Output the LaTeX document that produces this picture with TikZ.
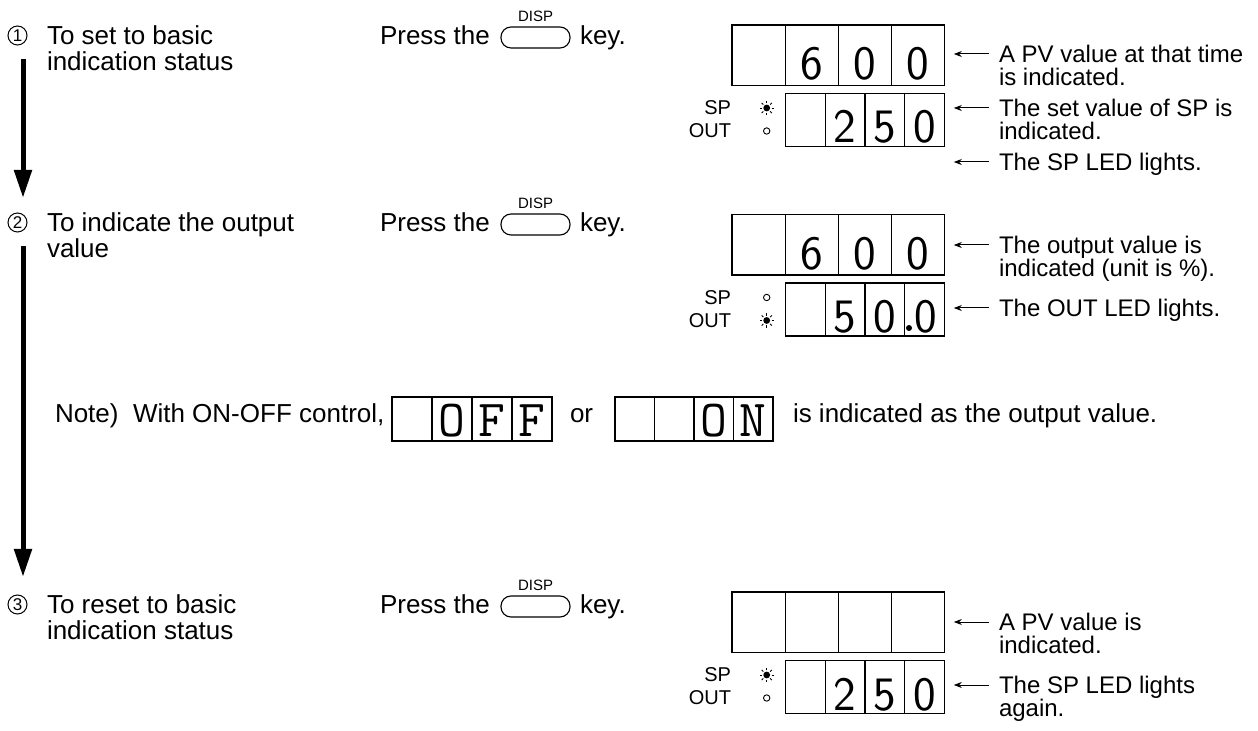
\documentclass[tikz,border=0pt]{standalone}
\usepackage{fontspec}
\setmainfont{Liberation Sans}
\usetikzlibrary{arrows.meta,positioning}

\begin{document}
\begin{tikzpicture}[
  x=0.5pt, y=-0.5pt,
  every node/.style={inner sep=0pt, outer sep=0pt},
  main/.style={font=\fontsize{13}{13}\selectfont},
  desc/.style={font=\fontsize{12}{11.5}\selectfont, align=left, anchor=north west},
  num/.style={circle, draw, line width=0.5pt, minimum size=9.5pt, font=\fontsize{8.5}{8.5}\selectfont},
  keybox/.style={draw, rounded corners=5pt, line width=0.55pt, minimum width=34.5pt, minimum height=10.5pt},
  keylbl/.style={font=\fontsize{7.5}{7.5}\selectfont},
  cell/.style={draw, line width=0.6pt},
  seg/.style={font=\sffamily\fontsize{24}{24}\selectfont, anchor=base},
  mono/.style={font=\ttfamily\fontsize{26}{26}\selectfont, anchor=base},
  led/.style={font=\fontsize{10}{10}\selectfont, anchor=east},
  flow/.style={line width=2.5pt, -{Triangle[length=14pt,width=8.5pt]}},
  ptr/.style={line width=0.5pt, -{Stealth[length=4pt,width=3pt]}},
  ledon/.pic={\fill (0,0) circle (1.7pt);
    \foreach \a in {0,45,...,315} \draw[line width=0.4pt] (\a:2.4pt) -- (\a:3.6pt);},
  ledoff/.pic={\draw[line width=0.45pt] (0,0) circle (1.6pt);}
]
\useasboundingbox (0,0) rectangle (1258,731);

% steps on the left
\node[num] (n1) at (17.5,35.5) {1};
\node[num] (n2) at (17.5,222.5) {2};
\node[num] (n3) at (17.5,604.5) {3};
\node[main, align=left, anchor=north west] (s1) at (47,26) {To set to basic\\indication status};
\node[main, align=left, anchor=north west] (s2) at (47,213) {To indicate the output\\value};
\node[main, align=left, anchor=north west] (s3) at (47,595) {To reset to basic\\indication status};

\coordinate (f1a) at (23,59);
\coordinate (f1b) at (23,198);
\coordinate (f2a) at (23,246);
\coordinate (f2b) at (23,577);
\draw[flow] (f1a) -- (f1b);
\draw[flow] (f2a) -- (f2b);

% key presses
\foreach \b/\n in {45/1,232/2,614/3}{
  \node[main, anchor=base west] (press\n) at (380,\b) {Press the};
  \node[keybox] (key\n) at (535.5,\b-7.5) {};
  \node[keylbl] (disp\n) at (535.5,\b-29) {DISP};
  \node[main, anchor=base west] (keyt\n) at (580,\b) {key.};
}

% displays
\foreach \y/\n in {25/1,214.5/2,592/3}{
  \foreach \i in {0,...,3}
    \draw[cell] (732+53.1*\i,\y) rectangle ++(53.1,60.5);
  \foreach \i in {0,...,3}
    \draw[cell] (785.5+39.75*\i,\y+68.5) rectangle ++(39.75,53);
  \node[led] (sp\n) at (731,\y+83) {SP};
  \node[led] (out\n) at (731,\y+106) {OUT};
}
\pic (ledsp1) at (766.7,108) {ledon};
\pic (ledout1) at (766.7,131) {ledoff};
\pic (ledsp2) at (766.7,297.5) {ledoff};
\pic (ledout2) at (766.7,320.5) {ledon};
\pic (ledsp3) at (766.7,675) {ledon};
\pic (ledout3) at (766.7,698) {ledoff};

\node[seg] (u1b) at (811.65,80) {6};
\node[seg] (u1c) at (864.75,80) {0};
\node[seg] (u1d) at (917.85,80) {0};
\node[seg] (l1b) at (845.1,143) {2};
\node[seg] (l1c) at (884.9,143) {5};
\node[seg] (l1d) at (924.6,143) {0};
\node[seg] (u2b) at (811.65,269.5) {6};
\node[seg] (u2c) at (864.75,269.5) {0};
\node[seg] (u2d) at (917.85,269.5) {0};
\node[seg] (l2b) at (845.1,332.5) {5};
\node[seg] (l2c) at (884.9,332.5) {0};
\node[seg] (l2d) at (926,332.5) {0};
\fill (909,328) circle (1.5pt);
\node[seg] (l3b) at (845.1,710) {2};
\node[seg] (l3c) at (884.9,710) {5};
\node[seg] (l3d) at (924.6,710) {0};

% texts on the right
\node[desc] (d1a) at (999,45) {A PV value at that time\\is indicated.};
\node[desc] (d1b) at (999,99) {The set value of SP is\\indicated.};
\node[desc] (d1c) at (999,153) {The SP LED lights.};
\node[desc] (d2a) at (999,236) {The output value is\\indicated (unit is \%).};
\node[desc] (d2b) at (999,299) {The OUT LED lights.};
\node[desc] (d3a) at (999,613) {A PV value is\\indicated.};
\node[desc] (d3b) at (999,676) {The SP LED lights\\again.};

\foreach \c/\m in {54/1a,108/1b,162/1c,245/2a,308/2b,622/3a,685/3b}{
  \coordinate (pa\m) at (988.7,\c);
  \coordinate (pb\m) at (953.8,\c);
  \draw[ptr] (pa\m) -- (pb\m);
}

% note line
\node[main, anchor=base west] (note) at (55,423) {Note)\ \ With ON-OFF control,};
\foreach \i in {0,...,3}
  \draw[cell] (392+40*\i,397) rectangle ++(40,44);
\node[mono] (offo) at (452,437) {O};
\node[mono] (offf) at (492,437) {F};
\node[mono] (offg) at (532,437) {F};
\node[main, anchor=base west] (ortxt) at (570,423) {or};
\foreach \i in {0,...,3}
  \draw[cell] (615+39.5*\i,397) rectangle ++(39.5,44);
\node[mono] (ono) at (713.75,437) {O};
\node[mono] (onn) at (753.25,437) {N};
\node[main, anchor=base west] (notee) at (793,423) {is indicated as the output value.};
\end{tikzpicture}
\end{document}
